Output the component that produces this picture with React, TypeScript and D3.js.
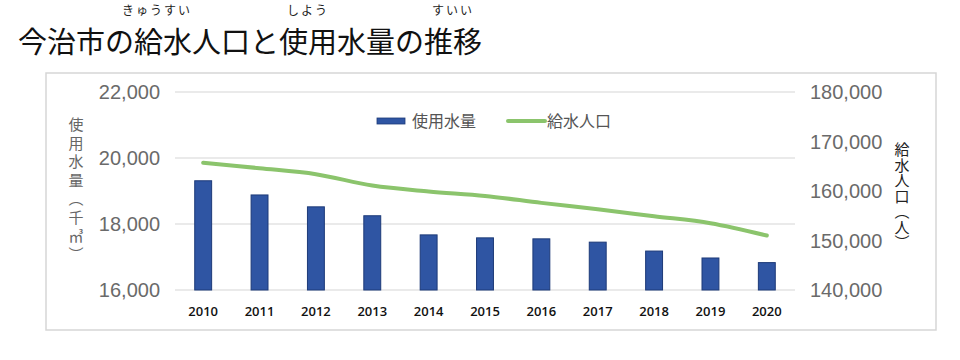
import * as React from 'react';
import * as d3 from 'd3';

// data
const years = ['2010', '2011', '2012', '2013', '2014', '2015', '2016', '2017', '2018', '2019', '2020'];
const waterUse = [19310, 18880, 18520, 18250, 17670, 17580, 17550, 17450, 17180, 16970, 16830]; // 千㎥
const population = [165700, 164600, 163400, 161100, 159900, 159000, 157600, 156300, 154900, 153500, 151000]; // 人
const leftTicks = [16000, 18000, 20000, 22000];
const rightTicks = [140000, 150000, 160000, 170000, 180000];
const leftTitle = '使用水量（千㎥）';
const rightTitle = '給水人口（人）';

const W = 960;
const H = 360;
const plot = { left: 175, right: 795, top: 92, bottom: 290 };
const barColor = '#2f55a3';
const lineColor = '#8bc46c';
const jp = '"Noto Sans CJK JP", "Noto Sans", sans-serif';
const num = '"Liberation Sans", Arial, sans-serif';

const App = () => {
  const x = d3
    .scaleBand()
    .domain(years)
    .range([plot.left, plot.right])
    .paddingInner(0.7)
    .paddingOuter(0.35);
  const yL = d3.scaleLinear().domain([16000, 22000]).range([plot.bottom, plot.top]);
  const yR = d3.scaleLinear().domain([140000, 180000]).range([plot.bottom, plot.top]);
  const fmt = d3.format(',');

  const line = d3
    .line<number>()
    .x((d, i) => (x(years[i]) as number) + x.bandwidth() / 2)
    .y(d => yR(d))
    .curve(d3.curveCatmullRom.alpha(0.5));

  return (
    <svg
      width={W}
      height={H}
      style={{ position: 'absolute', left: 0, top: 0, background: '#fff' }}
    >
      {/* title with furigana */}
      <text x={18} y={53} fontFamily={jp} fontSize={29} fill="#111">
        今治市の給水人口と使用水量の推移
      </text>
      <g fontFamily={jp} fontSize={12} fill="#222" textAnchor="middle" letterSpacing={2}>
        <text x={157} y={15}>きゅうすい</text>
        <text x={308} y={15}>しよう</text>
        <text x={453} y={15}>すいい</text>
      </g>

      {/* chart frame */}
      <rect x={46} y={73} width={890} height={257} fill="none" stroke="#d6d6d6" strokeWidth={1.5} />

      {/* gridlines */}
      {leftTicks.map(t => (
        <line key={t} x1={plot.left} x2={plot.right} y1={yL(t)} y2={yL(t)} stroke="#e3e3e3" strokeWidth={1.5} />
      ))}

      {/* bars */}
      {waterUse.map((v, i) => (
        <rect
          key={years[i]}
          x={x(years[i])}
          y={yL(v)}
          width={x.bandwidth()}
          height={yL(16000) - yL(v)}
          fill={barColor}
          stroke="#1d3a78"
          strokeWidth={1}
        />
      ))}

      {/* population line */}
      <path d={line(population) || ''} fill="none" stroke={lineColor} strokeWidth={4} strokeLinecap="round" />

      {/* left axis labels */}
      {leftTicks.map(t => (
        <text key={t} x={160} y={yL(t)} dy="0.36em" textAnchor="end" fontFamily={num} fontSize={20} fill="#6a6a6a">
          {fmt(t)}
        </text>
      ))}

      {/* right axis labels */}
      {rightTicks.map(t => (
        <text key={t} x={810} y={yR(t)} dy="0.36em" textAnchor="start" fontFamily={num} fontSize={20} fill="#6a6a6a">
          {fmt(t)}
        </text>
      ))}

      {/* x axis labels */}
      {years.map(y => (
        <text
          key={y}
          x={(x(y) as number) + x.bandwidth() / 2}
          y={316}
          textAnchor="middle"
          fontFamily='"Open Sans", sans-serif'
          fontWeight={600}
          fontSize={13}
          fill="#111"
        >
          {y}
        </text>
      ))}

      {/* axis titles (vertical) */}
      <text
        x={76}
        y={117}
        fontFamily={jp}
        fontSize={15}
        fill="#666"
        letterSpacing={3.5}
        style={{ writingMode: 'vertical-rl' }}
      >
        {leftTitle}
      </text>
      <text
        x={902}
        y={142}
        fontFamily={jp}
        fontSize={15}
        fill="#222"
        letterSpacing={0.5}
        style={{ writingMode: 'vertical-rl' }}
      >
        {rightTitle}
      </text>

      {/* legend */}
      <rect x={377} y={118} width={28} height={6} fill={barColor} stroke="#1d3a78" strokeWidth={0.8} />
      <text x={412} y={127} fontFamily={jp} fontSize={16} fill="#555">
        使用水量
      </text>
      <line x1={508} x2={545} y1={121} y2={121} stroke={lineColor} strokeWidth={4} strokeLinecap="round" />
      <text x={547} y={127} fontFamily={jp} fontSize={16} fill="#555">
        給水人口
      </text>
    </svg>
  );
};

export default App;
